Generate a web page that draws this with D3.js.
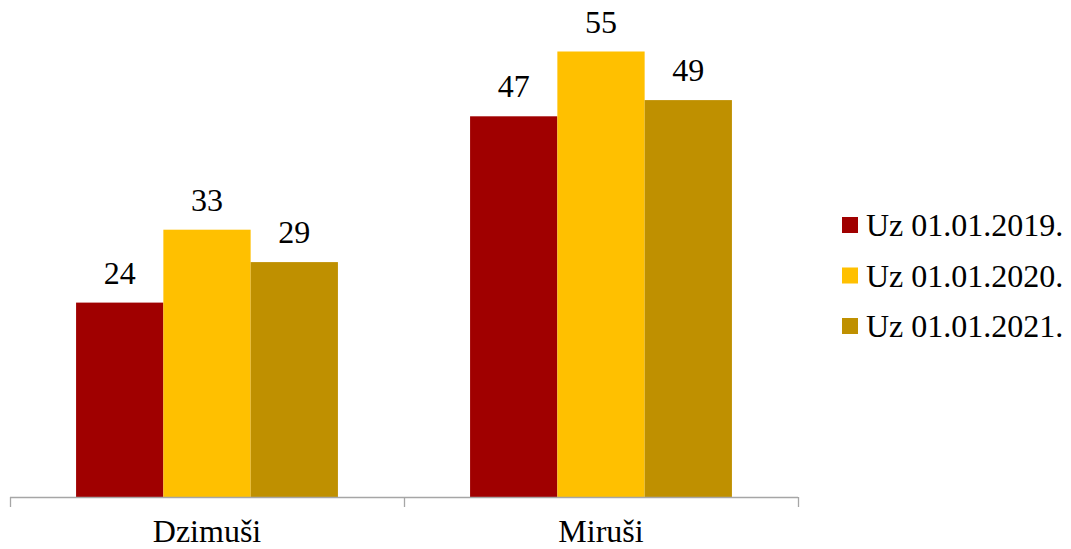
<!DOCTYPE html>
<html>
<head>
<meta charset="utf-8">
<script src="https://cdn.jsdelivr.net/npm/d3@7"></script>
<style>
  body { margin: 0; background: #fff; }
</style>
</head>
<body>
<div id="chart"></div>
<script>
// dati
const categories = ["Dzimuši", "Miruši"];
const seriesNames = ["Uz 01.01.2019.", "Uz 01.01.2020.", "Uz 01.01.2021."];
const seriesColors = ["#A00000", "#FFC000", "#BF9000"];
const values2019 = [24, 47];
const values2020 = [33, 55];
const values2021 = [29, 49];
const seriesValues = [values2019, values2020, values2021];

const WIDTH = 1071, HEIGHT = 549;
const plot = { left: 10, right: 798, top: 11, bottom: 497 };
const FONT = "'Liberation Serif', 'Times New Roman', Times, serif";
const FONT_SIZE = 32;

const svg = d3.select("#chart").append("svg")
    .attr("width", WIDTH)
    .attr("height", HEIGHT)
    .attr("font-family", FONT)
    .attr("font-size", FONT_SIZE);

const x0 = d3.scaleBand().domain(categories).range([plot.left, plot.right]).padding(0);
const x1 = d3.scaleBand().domain(d3.range(seriesNames.length))
    .range([0, x0.bandwidth()]).paddingInner(0).paddingOuter(0.757);
const y = d3.scaleLinear().domain([0, 60]).range([plot.bottom, plot.top]);

// barre
categories.forEach((cat, ci) => {
    const g = svg.append("g").attr("transform", `translate(${x0(cat)},0)`);
    seriesNames.forEach((s, si) => {
        const v = seriesValues[si][ci];
        g.append("rect")
            .attr("x", x1(si))
            .attr("y", y(v))
            .attr("width", x1.bandwidth())
            .attr("height", y(0) - y(v))
            .attr("fill", seriesColors[si]);
        g.append("text")
            .attr("x", x1(si) + x1.bandwidth() / 2)
            .attr("y", y(v) - 19)
            .attr("text-anchor", "middle")
            .text(v);
    });
});

// asse x con tacche ai bordi delle categorie
const axis = svg.append("g");
axis.append("line")
    .attr("x1", plot.left).attr("x2", plot.right)
    .attr("y1", plot.bottom + 0.5).attr("y2", plot.bottom + 0.5)
    .attr("stroke", "#A6A6A6").attr("stroke-width", 1.3);
const tickXs = categories.map(c => x0(c)).concat([plot.right]);
axis.selectAll("line.tick").data(tickXs).enter().append("line")
    .attr("class", "tick")
    .attr("x1", d => d + 0.5).attr("x2", d => d + 0.5)
    .attr("y1", plot.bottom).attr("y2", plot.bottom + 10)
    .attr("stroke", "#A6A6A6").attr("stroke-width", 1.3);
axis.selectAll("text").data(categories).enter().append("text")
    .attr("x", d => x0(d) + x0.bandwidth() / 2)
    .attr("y", 542)
    .attr("text-anchor", "middle")
    .text(d => d);

// legenda
const legend = svg.append("g").attr("transform", "translate(842,0)");
seriesNames.forEach((s, i) => {
    const cy = 225 + i * 50.5;
    legend.append("rect")
        .attr("x", 0).attr("y", cy - 8)
        .attr("width", 16).attr("height", 16)
        .attr("fill", seriesColors[i]);
    legend.append("text")
        .attr("x", 24).attr("y", cy + 11)
        .text(s);
});
</script>
</body>
</html>
